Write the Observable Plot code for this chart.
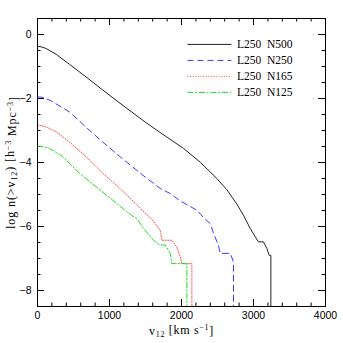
<!DOCTYPE html>
<html>
<head>
<meta charset="utf-8">
<script src="https://cdn.jsdelivr.net/npm/d3@7"></script>
<script src="https://cdn.jsdelivr.net/npm/@observablehq/plot@0.6"></script>
<style>
  html, body { margin: 0; padding: 0; background: #fff; }
  #chart { width: 343px; height: 343px; }
</style>
</head>
<body>
<div id="chart"></div>
<script>
// ---- data ----
const seriesNames = ["L250  N500", "L250  N250", "L250  N165", "L250  N125"];

const n500_v = [0, 60, 121, 260, 444, 700, 908, 1200, 1510, 1800, 2028, 2260, 2491, 2630, 2769, 2861, 2954, 3024, 3069, 3139, 3186, 3218, 3241, 3241];
const n500_n = [-0.37, -0.39, -0.44, -0.62, -0.93, -1.37, -1.74, -2.24, -2.76, -3.21, -3.56, -3.99, -4.50, -4.85, -5.30, -5.65, -6.06, -6.32, -6.48, -6.48, -6.69, -6.90, -6.90, -8.5];

const n250_v = [0, 60, 170, 444, 700, 900, 1093, 1300, 1464, 1704, 1843, 1982, 2213, 2306, 2398, 2444, 2514, 2537, 2676, 2713, 2722, 2722];
const n250_n = [-1.95, -1.96, -2.05, -2.42, -2.95, -3.35, -3.72, -4.10, -4.40, -4.81, -4.97, -5.20, -5.49, -5.72, -5.91, -6.20, -6.60, -6.84, -6.84, -7.05, -7.16, -8.5];

const n165_v = [0, 60, 121, 260, 444, 676, 908, 1139, 1371, 1486, 1600, 1704, 1730, 1866, 1935, 1990, 2005, 2144, 2144];
const n165_n = [-2.83, -2.85, -2.89, -3.04, -3.36, -3.82, -4.34, -4.80, -5.30, -5.56, -5.80, -6.12, -6.43, -6.43, -6.64, -7.00, -7.16, -7.16, -8.5];

const n125_v = [0, 60, 167, 352, 583, 815, 1047, 1186, 1325, 1380, 1472, 1611, 1700, 1773, 1843, 1866, 2075, 2075];
const n125_n = [-3.49, -3.50, -3.56, -3.82, -4.34, -4.76, -5.18, -5.44, -5.68, -5.75, -6.06, -6.43, -6.58, -6.58, -6.84, -7.16, -7.16, -8.5];

const xMajor = [0, 1000, 2000, 3000, 4000];
const xMinor = d3.range(0, 4001, 200);
const yMajor = [0, -2, -4, -6, -8];
const yMinor = d3.range(-8.5, 0.51, 0.5);

// ---- styling ----
const styles = [
  {stroke: "#222222", dash: null},
  {stroke: "#3a3aff", dash: "6,4"},
  {stroke: "#ff4a4a", dash: "1,1.6"},
  {stroke: "#22dd22", dash: "6,2,1.5,2"}
];
const allSeries = [[n500_v, n500_n], [n250_v, n250_n], [n165_v, n165_n], [n125_v, n125_n]];
const tables = allSeries.map(([v, n]) => v.map((d, i) => ({v: d, n: n[i]})));

const W = 343, H = 343;
const mL = 37, mR = 18, mT = 18, mB = 37;
const innerH = H - mT - mB;
const innerW = W - mL - mR;
const majLen = 7, minLen = 3.5;

// legend layout (in data space)
const legX1 = 2090, legX2 = 2700, legTX = 2770;
const legY = i => -0.31 - 0.5 * i;

const fmtY = d => d < 0 ? "\u2212" + (-d) : String(d);

const marks = [];
// ticks: bottom/top
marks.push(Plot.ruleX(xMinor, {x: d => d, insetTop: innerH - minLen, stroke: "#000"}));
marks.push(Plot.ruleX(xMinor, {x: d => d, insetBottom: innerH - minLen, stroke: "#000"}));
marks.push(Plot.ruleX(xMajor, {x: d => d, insetTop: innerH - majLen, stroke: "#000"}));
marks.push(Plot.ruleX(xMajor, {x: d => d, insetBottom: innerH - majLen, stroke: "#000"}));
// ticks: left/right
marks.push(Plot.ruleY(yMinor, {y: d => d, insetRight: innerW - minLen, stroke: "#000"}));
marks.push(Plot.ruleY(yMinor, {y: d => d, insetLeft: innerW - minLen, stroke: "#000"}));
marks.push(Plot.ruleY(yMajor, {y: d => d, insetRight: innerW - majLen, stroke: "#000"}));
marks.push(Plot.ruleY(yMajor, {y: d => d, insetLeft: innerW - majLen, stroke: "#000"}));

// curves
tables.forEach((t, i) => {
  marks.push(Plot.line(t, {x: "v", y: "n", stroke: styles[i].stroke, strokeWidth: 1,
    strokeDasharray: styles[i].dash, clip: true}));
});

// legend
seriesNames.forEach((name, i) => {
  marks.push(Plot.ruleY([legY(i)], {y: d => d, x1: legX1, x2: legX2, stroke: styles[i].stroke,
    strokeWidth: 1, strokeDasharray: styles[i].dash}));
  marks.push(Plot.text([name], {x: legTX, y: legY(i), text: d => d, textAnchor: "start",
    fontSize: 11.5, fontFamily: "Liberation Serif", fill: "#000"}));
});

marks.push(Plot.frame({stroke: "#000"}));
marks.push(Plot.axisX({ticks: xMajor, tickSize: 0, tickPadding: 5, tickFormat: d => String(d),
  label: null, fontSize: 10.5}));
marks.push(Plot.axisY({ticks: yMajor, tickSize: 0, tickPadding: 6, tickFormat: fmtY,
  label: null, fontSize: 10.5}));
// axis titles
marks.push(Plot.text(["XLABEL"], {frameAnchor: "bottom", dy: 28, text: d => d, fontSize: 12,
  fontFamily: "Liberation Serif", textAnchor: "middle"}));
marks.push(Plot.text(["YLABEL"], {frameAnchor: "left", dx: -26, rotate: -90, text: d => d,
  fontSize: 12, fontFamily: "Liberation Serif", textAnchor: "middle"}));

const chart = Plot.plot({
  width: W, height: H,
  marginLeft: mL, marginRight: mR, marginTop: mT, marginBottom: mB,
  style: {fontFamily: "Liberation Sans, Arial, sans-serif", background: "#fff", color: "#000"},
  x: {domain: [0, 4000]},
  y: {domain: [-8.5, 0.5]},
  marks
});

// rich axis labels with sub/superscripts
const svg = d3.select(chart);
svg.selectAll("text").each(function() {
  const t = d3.select(this);
  if (this.textContent === "XLABEL") {
    t.text(null).attr("letter-spacing", "0.7");
    t.append("tspan").text("v");
    t.append("tspan").attr("dy", "0.25em").attr("font-size", "8").text("12");
    t.append("tspan").attr("dy", "-0.25em").text(" [km s");
    t.append("tspan").attr("dy", "-0.4em").attr("font-size", "8").text("\u22121");
    t.append("tspan").attr("dy", "0.4em").text("]");
  } else if (this.textContent === "YLABEL") {
    t.text(null).attr("letter-spacing", "0.9");
    t.append("tspan").text("log n(>v");
    t.append("tspan").attr("dy", "0.25em").attr("font-size", "8").text("12");
    t.append("tspan").attr("dy", "-0.25em").text(") [h");
    t.append("tspan").attr("dy", "-0.4em").attr("font-size", "8").text("\u22123");
    t.append("tspan").attr("dy", "0.4em").text(" Mpc");
    t.append("tspan").attr("dy", "-0.4em").attr("font-size", "8").text("\u22123");
    t.append("tspan").attr("dy", "0.4em").text("]");
  }
});

document.getElementById("chart").appendChild(chart);
</script>
</body>
</html>
